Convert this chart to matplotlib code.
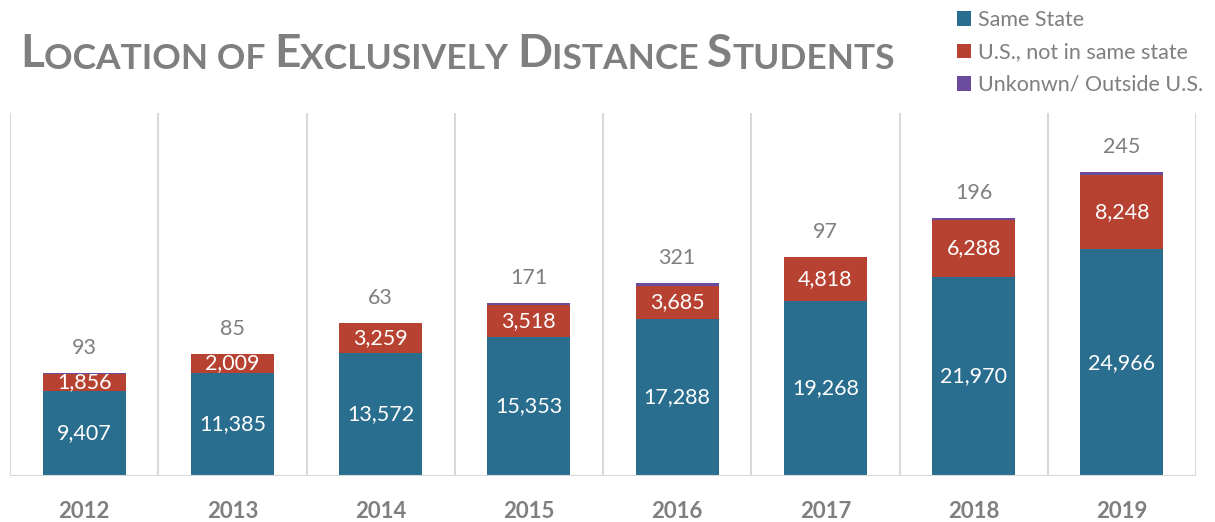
import matplotlib.pyplot as plt

years = ["2012", "2013", "2014", "2015", "2016", "2017", "2018", "2019"]
same_state = [9407, 11385, 13572, 15353, 17288, 19268, 21970, 24966]
other_state = [1856, 2009, 3259, 3518, 3685, 4818, 6288, 8248]
unknown = [93, 85, 63, 171, 321, 97, 196, 245]

c_same = "#296E8E"
c_other = "#B84231"
c_unk = "#6A4C9C"
gray = "#7F7F7F"

plt.rcParams['font.family'] = ['Lato', 'DejaVu Sans']

fig = plt.figure(figsize=(12.15, 5.22), dpi=100)
ax = fig.add_axes([10 / 1215, 1 - 476 / 522, 1186 / 1215, 363 / 522])

x = list(range(len(years)))
w = 0.56
bottom2 = same_state
bottom3 = [a + b for a, b in zip(same_state, other_state)]
totals = [a + b for a, b in zip(bottom3, unknown)]

ax.bar(x, same_state, w, color=c_same, label="Same State", zorder=3)
ax.bar(x, other_state, w, bottom=bottom2, color=c_other,
       label="U.S., not in same state", zorder=3)
ax.bar(x, unknown, w, bottom=bottom3, color=c_unk,
       label="Unkonwn/ Outside U.S.", zorder=3)

for i in x:
    ax.text(i, same_state[i] / 2, f"{same_state[i]:,}", ha="center",
            va="center", color="white", fontsize=15.5, zorder=4)
    ax.text(i, same_state[i] + other_state[i] / 2, f"{other_state[i]:,}",
            ha="center", va="center", color="white", fontsize=15.5, zorder=4)
    ax.annotate(f"{unknown[i]:,}", (i, totals[i]), xytext=(0, 18),
                textcoords="offset points", ha="center", va="center",
                color=gray, fontsize=15.5)

ax.set_xlim(-0.5, len(years) - 0.5)
ax.set_ylim(0, 40000)
for b in [i - 0.5 for i in range(len(years) + 1)]:
    ax.axvline(b, color="#D9D9D9", lw=1.5, zorder=1)
ax.axhline(0, color="#D9D9D9", lw=1.5, zorder=5)
for s in ax.spines.values():
    s.set_visible(False)
ax.set_yticks([])
ax.set_xticks(x)
ax.set_xticklabels(years, fontsize=16, fontweight="bold", color=gray)
ax.tick_params(axis="x", length=0, pad=18)

# title in small caps
parts = [("L", 33), ("OCATION OF ", 25.5), ("E", 33), ("XCLUSIVELY ", 25.5),
         ("D", 33), ("ISTANCE ", 25.5), ("S", 33), ("TUDENTS", 25.5)]
t = fig.text(20 / 1215, 1 - 67 / 522, parts[0][0], fontsize=parts[0][1],
             fontweight="bold", color=gray, va="baseline")
for txt, sz in parts[1:]:
    t = ax.annotate(txt, xy=(1, 0), xycoords=t, fontsize=sz,
                    fontweight="bold", color=gray, va="bottom",
                    annotation_clip=False)

fig.legend(loc="upper left", bbox_to_anchor=(938 / 1215, 1.018),
           frameon=False, fontsize=15.5, labelcolor=gray, handlelength=0.65,
           handleheight=0.65, handletextpad=0.3, labelspacing=0.58)

fig.savefig("out.png", dpi=100)
